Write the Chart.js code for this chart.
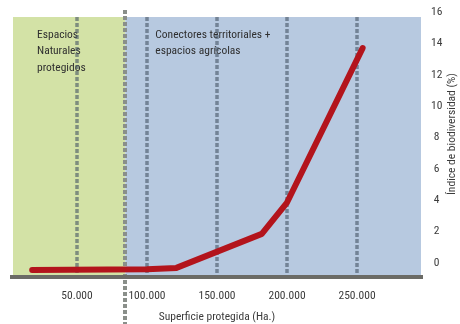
<!DOCTYPE html>
<html>
<head>
<meta charset="utf-8">
<script src="https://cdn.jsdelivr.net/npm/chart.js@4.4.0/dist/chart.umd.min.js"></script>
<style>
  html, body { margin: 0; padding: 0; background: #ffffff; }
  #wrap { width: 460px; height: 324px; }
</style>
</head>
<body>
<div id="wrap"><canvas id="c" width="460" height="324"></canvas></div>
<script>
// Protected surface (ha) and the biodiversity index it yields (%)
const surfaceHa = [18000, 100000, 121000, 182000, 200000, 254000];
const biodiversityIdx = [-0.45, -0.4, -0.32, 1.85, 3.85, 13.7];

// Axis ticks
const xTicks = [50000, 100000, 150000, 200000, 250000];
const yTicks = [0, 2, 4, 6, 8, 10, 12, 14, 16];

// Zones: natural spaces up to the boundary, connectors beyond it
const zoneBoundary = 84500;
const zoneTop = 15.68;
const zoneLabels = [
  ['Espacios', 'Naturales', 'protegidos'],
  ['Conectores territoriales +', 'espacios agrícolas']
];
const xTitle = 'Superficie protegida (Ha.)';
const yTitle = 'Índice de biodiversidad (%)';

const FONT = '"Liberation Sans Narrow", "Roboto Condensed", "Liberation Sans", sans-serif';
const TEXT = '#3b3b3b';

const fmtThousands = v => String(v).replace(/\B(?=(\d{3})+(?!\d))/g, '.');

const zonesPlugin = {
  id: 'zones',
  beforeDatasetsDraw(chart) {
    const { ctx, chartArea: a, scales: { x, y } } = chart;
    const top = y.getPixelForValue(zoneTop);
    const bottom = a.bottom;
    const xb = x.getPixelForValue(zoneBoundary);
    ctx.save();
    // background bands
    ctx.fillStyle = '#d3e2a6';
    ctx.fillRect(a.left, top, xb - a.left, bottom - top);
    ctx.fillStyle = '#b7c9e0';
    ctx.fillRect(xb, top, a.right - xb, bottom - top);

    // zone captions
    ctx.fillStyle = '#2f2f2f';
    ctx.font = '11.5px ' + FONT;
    ctx.textBaseline = 'middle';
    ctx.textAlign = 'left';
    zoneLabels[0].forEach((t, i) => ctx.fillText(t, a.left + 24, 35 + i * 16.5));
    zoneLabels[1].forEach((t, i) => ctx.fillText(t, xb + 30, 35 + i * 16.5));

    // dashed gridlines at x ticks
    ctx.strokeStyle = 'rgba(70,85,100,0.6)';
    ctx.lineWidth = 3.5;
    ctx.setLineDash([4, 2]);
    xTicks.forEach(v => {
      const px = Math.round(x.getPixelForValue(v));
      ctx.beginPath();
      ctx.moveTo(px, top);
      ctx.lineTo(px, bottom);
      ctx.stroke();
    });

    // zone boundary, running past the plot
    ctx.strokeStyle = '#8a8f8a';
    ctx.lineWidth = 4;
    ctx.beginPath();
    ctx.moveTo(Math.round(xb), 10);
    ctx.lineTo(Math.round(xb), chart.height);
    ctx.stroke();
    ctx.setLineDash([]);

    // base axis line
    ctx.strokeStyle = '#6b6b66';
    ctx.lineWidth = 4;
    ctx.beginPath();
    ctx.moveTo(a.left - 3, bottom);
    ctx.lineTo(a.right + 2, bottom);
    ctx.stroke();

    // axis titles
    ctx.fillStyle = TEXT;
    ctx.font = '11.5px ' + FONT;
    ctx.textAlign = 'center';
    ctx.textBaseline = 'middle';
    ctx.fillText(xTitle, (a.left + a.right) / 2, 317);
    ctx.translate(452, 134);
    ctx.rotate(-Math.PI / 2);
    ctx.fillText(yTitle, 0, 0);
    ctx.restore();
  }
};

new Chart(document.getElementById('c'), {
  type: 'line',
  data: {
    datasets: [{
      data: surfaceHa.map((s, i) => ({ x: s, y: biodiversityIdx[i] })),
      borderColor: '#b3141c',
      borderWidth: 6,
      borderCapStyle: 'round',
      borderJoinStyle: 'round',
      pointRadius: 0,
      tension: 0,
      fill: false
    }]
  },
  options: {
    responsive: false,
    devicePixelRatio: 1,
    animation: false,
    layout: { padding: { left: 13, top: 12, right: 0, bottom: 0 } },
    plugins: { legend: { display: false }, tooltip: { enabled: false } },
    scales: {
      x: {
        type: 'linear',
        min: 4300,
        max: 295700,
        afterBuildTicks: s => { s.ticks = xTicks.map(v => ({ value: v })); },
        afterFit: s => { s.height = 47; s.paddingLeft = 0; s.paddingRight = 0; },
        grid: { display: false, drawTicks: false },
        border: { display: false },
        ticks: {
          color: TEXT,
          font: { family: FONT, size: 11.5 },
          padding: 12,
          maxRotation: 0,
          autoSkip: false,
          callback: v => fmtThousands(v)
        }
      },
      y: {
        type: 'linear',
        position: 'right',
        min: -0.9,
        max: 16,
        afterBuildTicks: s => { s.ticks = yTicks.map(v => ({ value: v })); },
        afterFit: s => { s.width = 39; s.paddingTop = 0; s.paddingBottom = 0; },
        grid: { display: false, drawTicks: false },
        border: { display: false },
        ticks: {
          color: TEXT,
          font: { family: FONT, size: 11.5 },
          padding: 10,
          crossAlign: 'center',
          autoSkip: false
        }
      }
    }
  },
  plugins: [zonesPlugin]
});
</script>
</body>
</html>
